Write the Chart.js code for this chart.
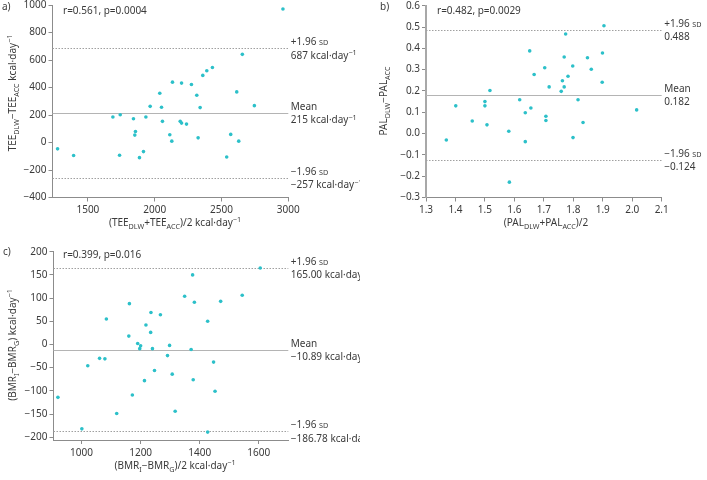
<!DOCTYPE html>
<html>
<head>
<meta charset="utf-8">
<script src="https://cdn.jsdelivr.net/npm/chart.js@4.4.1/dist/chart.umd.min.js"></script>
<style>
  html, body { margin: 0; padding: 0; background: #ffffff; }
  body { width: 707px; height: 480px; position: relative; overflow: hidden; }
  canvas { position: absolute; }
</style>
</head>
<body>
<canvas id="ca" width="360" height="240" style="left:0;top:0"></canvas>
<canvas id="cb" width="347" height="240" style="left:360px;top:0"></canvas>
<canvas id="cc" width="360" height="240" style="left:0;top:240px"></canvas>
<script>
// ---------------- DATA ----------------
// Panel a: TEE (DLW vs ACC)
const aMeanX = [1273,1393,1687,1742,1737,1841,1856,1851,1886,1916,1934,1966,2038,2051,2058,2113,2128,2133,2191,2201,2201,2238,2275,2315,2325,2340,2360,2390,2432,2539,2569,2614,2629,2656,2746,2960];
const aDiffY = [-46,-95,185,202,-93,173,80,54,-110,-66,185,263,358,256,154,56,10,439,154,141,432,134,422,344,34,254,488,522,546,-105,59,368,10,641,268,971];
const aLimits = [687, 215, -257];             // +1.96 SD, mean, -1.96 SD
const aXTicks = [1500, 2000, 2500, 3000];
const aXLabels = ['1500', '2000', '2500', '3000'];
const aYTicks = [-400, -200, 0, 200, 400, 600, 800, 1000];
const aYLabels = ['\u2212400', '\u2212200', '0', '200', '400', '600', '800', '1000'];

// Panel b: PAL (DLW vs ACC)
const bMeanX = [1.369,1.401,1.457,1.500,1.500,1.507,1.517,1.581,1.583,1.618,1.637,1.637,1.652,1.656,1.667,1.703,1.707,1.707,1.718,1.759,1.763,1.769,1.769,1.774,1.782,1.799,1.798,1.816,1.833,1.848,1.861,1.899,1.898,1.904,2.015];
const bDiffY = [-0.030,0.130,0.059,0.150,0.130,0.041,0.202,0.011,-0.228,0.159,0.098,-0.038,0.388,0.120,0.277,0.309,0.081,0.061,0.219,0.198,0.248,0.359,0.219,0.467,0.269,-0.019,0.317,0.159,0.052,0.356,0.302,0.378,0.241,0.506,0.111];
const bLimits = [0.488, 0.182, -0.124];
const bXTicks = [1.3, 1.4, 1.5, 1.6, 1.7, 1.8, 1.9, 2.0, 2.1];
const bXLabels = ['1.3', '1.4', '1.5', '1.6', '1.7', '1.8', '1.9', '2.0', '2.1'];
const bYTicks = [-0.3, -0.2, -0.1, 0, 0.1, 0.2, 0.3, 0.4, 0.5, 0.6];
const bYLabels = ['\u22120.3', '\u22120.2', '\u22120.1', '0.0', '0.1', '0.2', '0.3', '0.4', '0.5', '0.6'];

// Panel c: BMR (I vs G)
const cMeanX = [920,1001,1021,1061,1079,1084,1119,1160,1162,1172,1190,1197,1200,1213,1218,1234,1235,1240,1247,1267,1291,1298,1307,1317,1349,1371,1376,1378,1382,1427,1427,1447,1452,1471,1544,1605];
const cDiffY = [-114,-182,-46,-30,-31,55,-149,18,88,-109,2,-9,-3,-78,42,26,69,-9,-56,64,-24,-2,-64,-144,104,-11,150,-76,91,50,-189,-38,-101,93,106,165];
const cLimits = [165.00, -10.89, -186.78];
const cXTicks = [1000, 1200, 1400, 1600];
const cXLabels = ['1000', '1200', '1400', '1600'];
const cYTicks = [-200, -150, -100, -50, 0, 50, 100, 150, 200];
const cYLabels = ['\u2212200', '\u2212150', '\u2212100', '\u221250', '0', '50', '100', '150', '200'];

// ---------------- STYLE ----------------
const FONT = "'Noto Sans', 'Open Sans', sans-serif";
const TXT = '#3a3a3a';
const AXIS = '#8c8c8c';
const DOT = '#2cc0c9';

// rich text: segments [text, kind] kind: '' | 'sub' | 'sup' | 'sc'
function segFont(kind, size) {
  const s = (kind === '') ? size : size * 0.72;
  return s.toFixed(2) + 'px ' + FONT;
}
function richWidth(ctx, segs, size) {
  let w = 0;
  for (const [t, k] of segs) { ctx.font = segFont(k, size); w += ctx.measureText(t).width; }
  return w;
}
function drawRich(ctx, segs, x, y, size, align) {
  ctx.save();
  ctx.textBaseline = 'alphabetic';
  ctx.textAlign = 'left';
  ctx.fillStyle = TXT;
  let cx = x;
  if (align === 'center') cx = x - richWidth(ctx, segs, size) / 2;
  for (const [t, k] of segs) {
    ctx.font = segFont(k, size);
    let dy = 0;
    if (k === 'sub') dy = size * 0.28;
    if (k === 'sup') dy = -size * 0.38;
    ctx.fillText(t, cx, y + dy);
    cx += ctx.measureText(t).width;
  }
  ctx.restore();
}

function makePanel(id, o) {
  const refPlugin = {
    id: 'ref_' + id,
    beforeDatasetsDraw(chart) {
      const ctx = chart.ctx, a = chart.chartArea, ys = chart.scales.y;
      ctx.save();
      o.limits.forEach((v, i) => {
        const y = Math.round(ys.getPixelForValue(v)) + 0.5;
        ctx.beginPath();
        ctx.lineWidth = 1;
        if (i === 1) { ctx.setLineDash([]); ctx.strokeStyle = '#b4b4b4'; }
        else { ctx.setLineDash([1.5, 1.5]); ctx.strokeStyle = '#a0a0a0'; }
        ctx.moveTo(a.left, y);
        ctx.lineTo(a.right, y);
        ctx.stroke();
      });
      ctx.restore();
    },
    afterDraw(chart) {
      const ctx = chart.ctx, a = chart.chartArea, ys = chart.scales.y;
      const tx = a.right + 2.5;
      o.limits.forEach((v, i) => {
        const y = ys.getPixelForValue(v);
        drawRich(ctx, o.limitHead[i], tx, y - 3, 10, 'left');
        drawRich(ctx, o.limitVal[i], tx, y + 10.5, 10, 'left');
      });
      drawRich(ctx, [[o.stat, '']], o.statPos[0], o.statPos[1], 10, 'left');
      drawRich(ctx, [[o.letter, '']], o.letterPos[0], o.letterPos[1], 10, 'left');
      drawRich(ctx, o.xTitle, o.xTitlePos[0], o.xTitlePos[1], 10, 'center');
      ctx.save();
      ctx.translate(o.yTitlePos[0], o.yTitlePos[1]);
      ctx.rotate(-Math.PI / 2);
      drawRich(ctx, o.yTitle, 0, 0, 10, 'center');
      ctx.restore();
    }
  };
  const pts = o.x.map((v, i) => ({ x: v, y: o.y[i] }));
  return new Chart(document.getElementById(id), {
    type: 'scatter',
    data: { datasets: [{ data: pts, backgroundColor: DOT, borderColor: DOT, borderWidth: 0, pointRadius: 1.8, pointHoverRadius: 1.8 }] },
    options: {
      responsive: false, animation: false, devicePixelRatio: 1,
      layout: { padding: { left: 0, top: o.T, right: o.R, bottom: 0 } },
      plugins: { legend: { display: false }, tooltip: { enabled: false } },
      events: [],
      scales: {
        x: {
          type: 'linear', min: o.xMin, max: o.xMax,
          afterFit(s) { s.height = o.H; s.paddingLeft = 0; s.paddingRight = 0; },
          afterBuildTicks(s) { s.ticks = o.xTicks.map(v => ({ value: v })); },
          ticks: { callback: (v) => o.xLabels[o.xTicks.findIndex(t => Math.abs(t - v) < 1e-9)], font: { family: FONT, size: 10 }, color: TXT, padding: 3, maxRotation: 0, autoSkip: false },
          grid: { drawOnChartArea: false, drawTicks: true, tickLength: 4, color: AXIS, lineWidth: 1 },
          border: { color: AXIS, width: 1 }
        },
        y: {
          type: 'linear', min: o.yMin, max: o.yMax,
          afterFit(s) { s.width = o.W; s.paddingTop = 0; s.paddingBottom = 0; },
          afterBuildTicks(s) { s.ticks = o.yTicks.map(v => ({ value: v })); },
          ticks: { callback: (v) => o.yLabels[o.yTicks.findIndex(t => Math.abs(t - v) < 1e-9)], font: { family: FONT, size: 10 }, color: TXT, padding: 2, autoSkip: false },
          grid: { drawOnChartArea: false, drawTicks: true, tickLength: 4, color: AXIS, lineWidth: 1 },
          border: { color: o.yBorderColor || AXIS, width: o.yBorderWidth || 1 }
        }
      }
    },
    plugins: [refPlugin]
  });
}

const KD = [[' kcal\u00b7day', ''], ['\u22121', 'sup']];
const head = [[['+1.96 ', ''], ['SD', 'sc']], [['Mean', '']], [['\u22121.96 ', ''], ['SD', 'sc']]];

makePanel('ca', {
  x: aMeanX, y: aDiffY, limits: aLimits,
  xMin: 1235, xMax: 3000, yMin: -400, yMax: 1000,
  xTicks: aXTicks, xLabels: aXLabels, yTicks: aYTicks, yLabels: aYLabels,
  W: 52.5, T: 5, R: 71.7, H: 42.5,
  limitHead: head,
  limitVal: [[['687', '']].concat(KD), [['215', '']].concat(KD), [['\u2212257', '']].concat(KD)],
  stat: 'r=0.561, p=0.0004', statPos: [63, 14],
  letter: 'a)', letterPos: [2, 10],
  xTitle: [['(TEE', ''], ['DLW', 'sub'], ['+TEE', ''], ['ACC', 'sub'], [')/2 kcal\u00b7day', ''], ['\u22121', 'sup']],
  xTitlePos: [175, 226],
  yTitle: [['TEE', ''], ['DLW', 'sub'], ['\u2212TEE', ''], ['ACC', 'sub'], [' kcal\u00b7day', ''], ['\u22121', 'sup']],
  yTitlePos: [16, 93]
});

makePanel('cb', {
  x: bMeanX, y: bDiffY, limits: bLimits,
  xMin: 1.3, xMax: 2.1, yMin: -0.3, yMax: 0.6,
  xTicks: bXTicks, xLabels: bXLabels, yTicks: bYTicks, yLabels: bYLabels,
  W: 66, T: 5.7, R: 45.3, H: 42.5,
  yBorderWidth: 2, yBorderColor: '#a8a8a8',
  limitHead: head,
  limitVal: [[['0.488', '']], [['0.182', '']], [['\u22120.124', '']]],
  stat: 'r=0.482, p=0.0029', statPos: [77, 14],
  letter: 'b)', letterPos: [20, 10],
  xTitle: [['(PAL', ''], ['DLW', 'sub'], ['+PAL', ''], ['ACC', 'sub'], [')/2', '']],
  xTitlePos: [186, 226],
  yTitle: [['PAL', ''], ['DLW', 'sub'], ['\u2212PAL', ''], ['ACC', 'sub']],
  yTitlePos: [27, 101]
});

makePanel('cc', {
  x: cMeanX, y: cDiffY, limits: cLimits,
  xMin: 905, xMax: 1700, yMin: -206, yMax: 200,
  xTicks: cXTicks, xLabels: cXLabels, yTicks: cYTicks, yLabels: cYLabels,
  W: 53.5, T: 11.7, R: 71.7, H: 40,
  limitHead: head,
  limitVal: [[['165.00', '']].concat(KD), [['\u221210.89', '']].concat(KD), [['\u2212186.78', '']].concat(KD)],
  stat: 'r=0.399, p=0.016', statPos: [63, 18],
  letter: 'c)', letterPos: [3, 15],
  xTitle: [['(BMR', ''], ['I', 'sub'], ['\u2212BMR', ''], ['G', 'sub'], [')/2 kcal\u00b7day', ''], ['\u22121', 'sup']],
  xTitlePos: [175, 229],
  yTitle: [['(BMR', ''], ['I', 'sub'], ['\u2212BMR', ''], ['G', 'sub'], [') kcal\u00b7day', ''], ['\u22121', 'sup']],
  yTitlePos: [16, 105]
});
</script>
</body>
</html>
